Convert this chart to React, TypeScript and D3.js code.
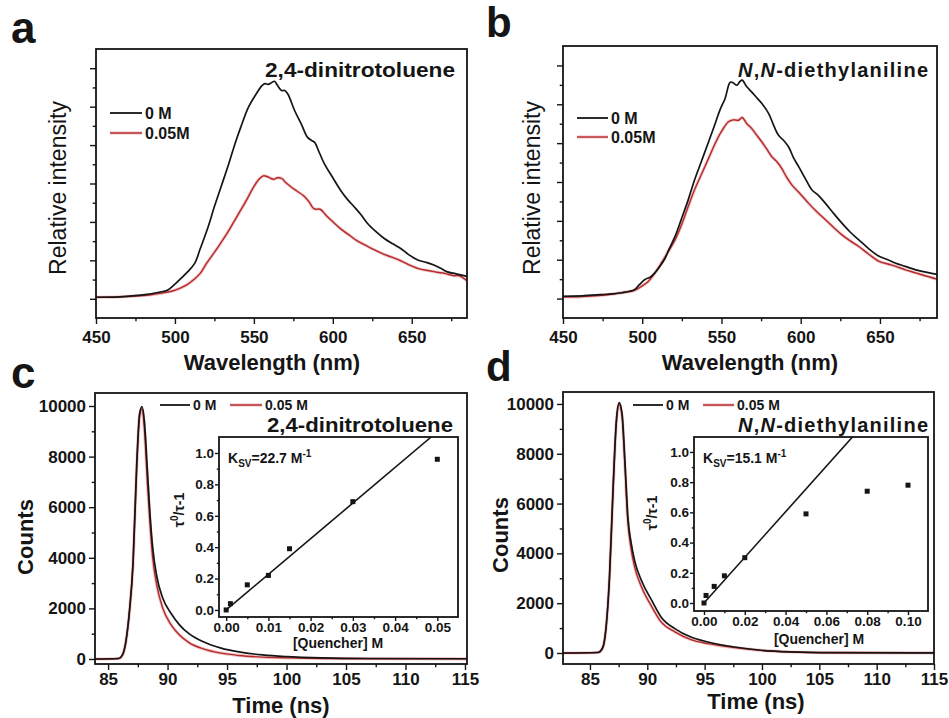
import { useEffect, useRef } from 'react'
import * as d3 from 'd3'

const FONT = '"Liberation Sans", Arial, Helvetica, sans-serif'
const INK = '#151515'
const RED = '#b3292b'
const GLOW = '#e9a7a7'

// steady-state spectra, [wavelength nm, relative intensity]
const specA0 = [[450, 0.04], [465, 0.05], [480, 0.1], [490, 0.17], [495.5, 0.23], [500, 0.38], [504, 0.54], [508, 0.7], [512.5, 0.92], [516, 1.3], [521, 1.87], [525, 2.4], [529.5, 2.95], [534, 3.5], [538, 4.03], [542, 4.5], [546.5, 4.98], [551, 5.3], [555, 5.54], [557, 5.6], [559, 5.58], [561, 5.62], [563, 5.66], [565, 5.55], [567.5, 5.42], [569.5, 5.42], [571.5, 5.33], [575.8, 4.9], [580, 4.55], [584, 4.2], [586.5, 4.12], [588.5, 4.07], [591.5, 3.8], [594.7, 3.51], [600, 3.15], [605, 2.82], [609, 2.6], [613.6, 2.39], [618, 2.18], [622, 1.96], [627, 1.76], [632.6, 1.57], [638, 1.43], [643, 1.31], [648, 1.15], [653.8, 1.01], [659, 0.95], [664, 0.88], [668, 0.8], [672.6, 0.7], [678, 0.65], [685, 0.58]]
const specA1 = [[450, 0.04], [465, 0.05], [484, 0.1], [492, 0.15], [499, 0.21], [503, 0.27], [507.5, 0.36], [512, 0.5], [516, 0.66], [520, 0.92], [524.5, 1.18], [529, 1.45], [533, 1.7], [537, 1.98], [541, 2.26], [545.5, 2.58], [549.7, 2.9], [553, 3.1], [556, 3.2], [559, 3.17], [562.4, 3.11], [565, 3.15], [567.7, 3.13], [570, 3.03], [573, 2.93], [577, 2.81], [581.5, 2.68], [585, 2.52], [587.5, 2.36], [589, 2.33], [592, 2.33], [596, 2.16], [600.4, 1.99], [605, 1.82], [611, 1.64], [615, 1.52], [619.5, 1.42], [626, 1.28], [632.2, 1.16], [637, 1.09], [643, 0.99], [649, 0.87], [655.5, 0.77], [661, 0.73], [666, 0.69], [671, 0.66], [676.7, 0.6], [680, 0.6], [685, 0.47]]
const specB0 = [[450, 0.06], [462, 0.07], [474, 0.1], [481, 0.12], [487, 0.15], [495, 0.23], [498, 0.35], [501.7, 0.49], [505, 0.55], [508, 0.66], [511, 0.82], [514, 1.0], [517, 1.28], [520.7, 1.6], [525, 2.08], [529, 2.54], [533, 3.05], [537.6, 3.56], [542, 4.05], [546, 4.5], [549, 4.85], [552.3, 5.15], [555.5, 5.57], [557.5, 5.55], [559.7, 5.49], [561.5, 5.58], [563, 5.62], [566, 5.45], [569, 5.32], [572, 5.18], [575.5, 5.02], [579.8, 4.76], [583, 4.45], [586, 4.2], [589, 4.08], [592.4, 3.9], [595.5, 3.62], [598.8, 3.39], [603, 3.08], [607, 2.8], [611, 2.66], [615.6, 2.45], [621, 2.18], [626, 1.94], [631, 1.72], [636.7, 1.51], [643, 1.28], [649.4, 1.09], [655, 1.0], [660, 0.91], [666, 0.83], [672.6, 0.74], [679, 0.68], [686, 0.62]]
const specB1 = [[450, 0.04], [462, 0.05], [478.5, 0.1], [487, 0.15], [495, 0.21], [499, 0.3], [503.8, 0.44], [508, 0.66], [512, 0.91], [516, 1.18], [520.7, 1.51], [525, 1.92], [529, 2.37], [533, 2.8], [537.6, 3.22], [542, 3.62], [546, 3.99], [550, 4.3], [554.4, 4.55], [557.5, 4.6], [560.8, 4.59], [563, 4.66], [566, 4.5], [569, 4.38], [572, 4.22], [575.5, 4.03], [578.5, 3.85], [581.8, 3.65], [585, 3.52], [588, 3.35], [591, 3.13], [594.5, 2.92], [600, 2.68], [605, 2.45], [610, 2.24], [615.6, 2.03], [621, 1.82], [626, 1.64], [631, 1.49], [636.7, 1.34], [643, 1.14], [649.4, 0.96], [655, 0.89], [660, 0.83], [666, 0.74], [672.6, 0.66], [679, 0.58], [686, 0.5]]

// fluorescence decays, [time ns, counts]
const decC0 = [[83.9, 0], [85.9, 20], [86.2, 150], [86.5, 700], [86.8, 1900], [87.1, 3800], [87.4, 7600], [87.65, 9700], [87.85, 9980], [88.05, 9400], [88.3, 7500], [88.5, 5900], [88.75, 4400], [89.1, 3250], [89.6, 2400], [90.3, 1800], [91, 1350], [91.8, 1000], [93, 680], [94.5, 430], [96, 280], [98, 160], [100, 95], [103, 45], [107, 20], [115.2, 10]]
const decC1 = [[83.9, 0], [85.9, 20], [86.2, 150], [86.5, 700], [86.8, 1900], [87.1, 3800], [87.4, 7500], [87.65, 9600], [87.85, 9880], [88.05, 9100], [88.3, 7000], [88.5, 5500], [88.75, 4000], [89.1, 2900], [89.6, 2000], [90.3, 1350], [91, 950], [91.8, 650], [93, 400], [94.5, 230], [96, 140], [98, 75], [100, 45], [103, 20], [107, 10], [115.2, 5]]
const decD0 = [[82.65, 0], [85.7, 20], [86.1, 200], [86.4, 1000], [86.7, 3000], [87.0, 6400], [87.3, 9300], [87.55, 10050], [87.8, 9600], [88.05, 7700], [88.3, 5500], [88.6, 4400], [88.9, 3700], [89.5, 2900], [90.4, 2100], [91.2, 1450], [92.4, 980], [93.8, 640], [95.3, 440], [97.6, 240], [99.9, 110], [102.5, 45], [106, 15], [115, 5]]
const decD1 = [[82.65, 0], [85.7, 20], [86.1, 200], [86.4, 1000], [86.7, 3000], [87.0, 6400], [87.3, 9250], [87.55, 9980], [87.8, 9500], [88.05, 7500], [88.3, 5300], [88.6, 4150], [88.9, 3450], [89.5, 2650], [90.4, 1850], [91.2, 1250], [92.4, 850], [93.8, 540], [95.3, 375], [97.6, 215], [99.9, 105], [102.5, 40], [106, 12], [115, 5]]

// Stern-Volmer insets
const quenchC = [0, 0.001, 0.005, 0.01, 0.015, 0.03, 0.05]
const ratioC = [0, 0.04, 0.16, 0.22, 0.39, 0.69, 0.96]
const quenchD = [0, 0.001, 0.005, 0.01, 0.02, 0.05, 0.08, 0.1]
const ratioD = [0, 0.05, 0.11, 0.18, 0.3, 0.59, 0.74, 0.78]
const ksvC = 22.7
const ksvD = 15.1

const wlTicks = [450, 500, 550, 600, 650]
const wlMinor = [475, 525, 575, 625, 675]
const relTicks = [0, 1, 2, 3, 4, 5, 6]
const relMinor = [0.5, 1.5, 2.5, 3.5, 4.5, 5.5]
const timeTicks = [85, 90, 95, 100, 105, 110, 115]
const timeMinor = [87.5, 92.5, 97.5, 102.5, 107.5, 112.5]
const countTicks = [0, 2000, 4000, 6000, 8000, 10000]
const countMinor = [1000, 3000, 5000, 7000, 9000]
const qTicksC = [0, 0.01, 0.02, 0.03, 0.04, 0.05]
const qMinorC = [0.005, 0.015, 0.025, 0.035, 0.045]
const qTicksD = [0, 0.02, 0.04, 0.06, 0.08, 0.1]
const qMinorD = [0.01, 0.03, 0.05, 0.07, 0.09]
const ratioTicks = [0, 0.2, 0.4, 0.6, 0.8, 1.0]
const ratioMinor = [0.1, 0.3, 0.5, 0.7, 0.9]

type Sel = d3.Selection<SVGGElement, unknown, null, undefined>

function axes(g: Sel, x: any, y: any, o: any) {
  const [x0, x1] = x.range()
  const [y0, y1] = y.range()
  const ax = g.append('g')
  const bot = (vals: number[], size: number, fmt: any) =>
    ax.append('g').attr('transform', `translate(0,${y0})`)
      .call(d3.axisBottom(x).tickValues(vals).tickSize(size).tickPadding(o.pad).tickFormat(fmt))
  const lef = (vals: number[], size: number, fmt: any) =>
    ax.append('g').attr('transform', `translate(${x0},0)`)
      .call(d3.axisLeft(y).tickValues(vals).tickSize(size).tickPadding(o.pad).tickFormat(fmt))
  bot(o.xTicks, o.tick, o.xFmt)
  bot(o.xMinor, o.tick * 0.55, () => '')
  lef(o.yTicks, o.tick, o.yFmt)
  lef(o.yMinor, o.tick * 0.55, () => '')
  ax.selectAll('.domain').remove()
  ax.selectAll('.tick line').attr('stroke', INK).attr('stroke-width', 1.4)
  ax.selectAll('.tick text').attr('fill', INK).attr('font-family', FONT)
    .attr('font-size', o.fs).attr('font-weight', 'bold')
  g.append('rect').attr('x', x0).attr('y', y1).attr('width', x1 - x0).attr('height', y0 - y1)
    .attr('fill', 'none').attr('stroke', INK).attr('stroke-width', 1.8)
}

function curve(g: Sel, data: number[][], x: any, y: any, red: boolean, smooth: any) {
  const line = d3.line<number[]>().x(d => x(d[0])).y(d => y(d[1])).curve(smooth)
  if (red) {
    g.append('path').attr('d', line(data)).attr('fill', 'none')
      .attr('stroke', GLOW).attr('stroke-width', 3.2).attr('stroke-opacity', 0.65)
  }
  g.append('path').attr('d', line(data)).attr('fill', 'none')
    .attr('stroke', red ? RED : INK).attr('stroke-width', red ? 1.4 : 1.7)
}

function label(g: Sel, txt: string, x: number, y: number, fs: number, o: any = {}) {
  const t = g.append('text').attr('x', x).attr('y', y).attr('font-family', FONT)
    .attr('font-size', fs).attr('font-weight', o.weight || 'bold').attr('fill', INK)
    .attr('text-anchor', o.anchor || 'start')
  if (o.rotate) t.attr('transform', `rotate(-90,${x},${y})`)
  if (o.len) t.attr('textLength', o.len).attr('lengthAdjust', 'spacingAndGlyphs')
  t.text(txt)
  return t
}

function legendRow(g: Sel, x0: number, x1: number, y: number, red: boolean, txt: string, fs: number) {
  if (red) g.append('line').attr('x1', x0).attr('x2', x1).attr('y1', y).attr('y2', y)
    .attr('stroke', GLOW).attr('stroke-width', 3.2).attr('stroke-opacity', 0.65)
  g.append('line').attr('x1', x0).attr('x2', x1).attr('y1', y).attr('y2', y)
    .attr('stroke', red ? RED : INK).attr('stroke-width', red ? 1.4 : 1.8)
  label(g, txt, x1 + 3, y + fs * 0.36, fs)
}

function italicTitle(g: Sel, x: number, y: number, len: number) {
  const t = g.append('text').attr('x', x).attr('y', y).attr('font-family', FONT)
    .attr('font-size', 20).attr('font-weight', 'bold').attr('fill', INK)
    .attr('textLength', len).attr('lengthAdjust', 'spacing')
  t.append('tspan').attr('font-style', 'italic').text('N')
  t.append('tspan').text(',')
  t.append('tspan').attr('font-style', 'italic').text('N')
  t.append('tspan').text('-diethylaniline')
}

function spectrum(svg: Sel, box: number[], xDom: number[], s0: number[][], s1: number[][], id: string) {
  const [l, t, r, b] = box
  const x = d3.scaleLinear().domain(xDom).range([l, r])
  const y = d3.scaleLinear().domain([-0.5, 6.5]).range([b, t])
  const g = svg.append('g')
  g.append('clipPath').attr('id', id).append('rect').attr('x', l).attr('y', t).attr('width', r - l).attr('height', b - t)
  const c = g.append('g').attr('clip-path', `url(#${id})`)
  const sm = d3.curveCatmullRom.alpha(0.5)
  curve(c, s1, x, y, true, sm)
  curve(c, s0, x, y, false, sm)
  axes(g, x, y, { xTicks: wlTicks, xMinor: wlMinor, yTicks: relTicks, yMinor: relMinor, xFmt: d3.format('d'), yFmt: () => '', tick: 6, pad: 7, fs: 17 })
  return g
}

function decay(svg: Sel, box: number[], xDom: number[], yDom: number[], s0: number[][], s1: number[][], id: string) {
  const [l, t, r, b] = box
  const x = d3.scaleLinear().domain(xDom).range([l, r])
  const y = d3.scaleLinear().domain(yDom).range([b, t])
  const g = svg.append('g')
  g.append('clipPath').attr('id', id).append('rect').attr('x', l).attr('y', t).attr('width', r - l).attr('height', b - t)
  const c = g.append('g').attr('clip-path', `url(#${id})`)
  const sm = d3.curveMonotoneX
  curve(c, s1, x, y, true, sm)
  curve(c, s0, x, y, false, sm)
  axes(g, x, y, { xTicks: timeTicks, xMinor: timeMinor, yTicks: countTicks, yMinor: countMinor, xFmt: d3.format('d'), yFmt: d3.format('d'), tick: 6, pad: 3, fs: 17 })
  return g
}

function inset(svg: Sel, box: number[], xDom: number[], yDom: number[], qs: number[], rs: number[], ksv: number, xt: number[], xm: number[], id: string) {
  const [l, t, r, b] = box
  const x = d3.scaleLinear().domain(xDom).range([l, r])
  const y = d3.scaleLinear().domain(yDom).range([b, t])
  const g = svg.append('g')
  g.append('rect').attr('x', l).attr('y', t).attr('width', r - l).attr('height', b - t).attr('fill', '#fff')
  g.append('clipPath').attr('id', id).append('rect').attr('x', l).attr('y', t).attr('width', r - l).attr('height', b - t)
  const c = g.append('g').attr('clip-path', `url(#${id})`)
  const xEnd = yDom[1] / ksv
  c.append('path').attr('d', d3.line()([[x(0), y(0)], [x(xEnd), y(ksv * xEnd)]]))
    .attr('stroke', INK).attr('stroke-width', 1.6).attr('fill', 'none')
  c.selectAll('rect.pt').data(qs).join('rect').attr('class', 'pt')
    .attr('x', (d: number) => x(d) - 2.5).attr('y', (_d: number, i: number) => y(rs[i]) - 2.5)
    .attr('width', 5).attr('height', 5).attr('fill', INK)
  axes(g, x, y, { xTicks: xt, xMinor: xm, yTicks: ratioTicks, yMinor: ratioMinor, xFmt: d3.format('.2f'), yFmt: d3.format('.1f'), tick: 4, pad: 1, fs: 13.5 })
  const k = g.append('text').attr('x', l + 9).attr('y', t + 26).attr('font-family', FONT)
    .attr('font-size', 14).attr('font-weight', 'bold').attr('fill', INK)
  k.append('tspan').text('K')
  k.append('tspan').attr('font-size', 10).attr('dy', 4).text('SV')
  k.append('tspan').attr('dy', -4).text(`=${ksv} M`)
  k.append('tspan').attr('font-size', 10).attr('dy', -6).text('-1')
  return g
}

function tauLabel(svg: Sel, x: number, y: number) {
  const t = svg.append('text').attr('x', x).attr('y', y).attr('font-family', FONT)
    .attr('font-size', 14).attr('font-weight', 'bold').attr('fill', INK)
    .attr('text-anchor', 'middle').attr('transform', `rotate(-90,${x},${y})`)
  t.append('tspan').text('τ')
  t.append('tspan').attr('font-size', 10).attr('dy', -6).text('0')
  t.append('tspan').attr('dy', 6).text('/τ-1')
}

export default function App() {
  const ref = useRef<SVGSVGElement>(null)

  useEffect(() => {
    if (!ref.current) return
    const svg = d3.select(ref.current) as any
    svg.selectAll('*').remove()
    const root: Sel = svg.append('g')

    // a / b spectra
    spectrum(root, [96, 49, 467, 318], [450, 685], specA0, specA1, 'clipA')
    spectrum(root, [563, 46, 937, 318], [450, 686], specB0, specB1, 'clipB')
    label(root, '2,4-dinitrotoluene', 265, 77, 20, { len: 190 })
    italicTitle(root, 738, 77, 190)
    legendRow(root, 110, 142, 113, false, '0 M', 16)
    legendRow(root, 110, 142, 133, true, '0.05M', 16)
    legendRow(root, 577, 608, 118, false, '0 M', 16)
    legendRow(root, 577, 608, 137, true, '0.05M', 16)
    label(root, 'Relative intensity', 66, 188, 23, { anchor: 'middle', rotate: true, weight: 'normal' })
    label(root, 'Relative intensity', 540, 188, 23, { anchor: 'middle', rotate: true, weight: 'normal' })
    label(root, 'Wavelength (nm)', 272, 370, 22, { anchor: 'middle' })
    label(root, 'Wavelength (nm)', 750, 370, 22, { anchor: 'middle' })

    // c / d decays
    decay(root, [95, 393, 467, 664], [83.9, 115.17], [-198, 10514], decC0, decC1, 'clipC')
    decay(root, [563, 392, 934, 664], [82.65, 115], [-442, 10480], decD0, decD1, 'clipD')
    legendRow(root, 160, 190, 405, false, '0 M', 14)
    legendRow(root, 230, 262, 405, true, '0.05 M', 14)
    legendRow(root, 633, 663, 405, false, '0 M', 14)
    legendRow(root, 703, 734, 405, true, '0.05 M', 14)
    label(root, '2,4-dinitrotoluene', 267, 432, 20, { len: 186 })
    italicTitle(root, 738, 432, 190)
    label(root, 'Counts', 33, 537, 22, { anchor: 'middle', rotate: true })
    label(root, 'Counts', 508, 535, 22, { anchor: 'middle', rotate: true })
    label(root, 'Time (ns)', 281, 713, 22, { anchor: 'middle' })
    label(root, 'Time (ns)', 756, 709, 22, { anchor: 'middle' })

    inset(root, [219, 437, 458, 617], [-0.0017, 0.0549], [-0.045, 1.102], quenchC, ratioC, ksvC, qTicksC, qMinorC, 'clipIC')
    inset(root, [694, 437, 928, 611], [-0.0049, 0.1098], [-0.053, 1.099], quenchD, ratioD, ksvD, qTicksD, qMinorD, 'clipID')
    label(root, '[Quencher] M', 338, 648, 14, { anchor: 'middle' })
    label(root, '[Quencher] M', 819, 644, 14, { anchor: 'middle' })
    tauLabel(root, 184, 510)
    tauLabel(root, 657, 513)

    // panel letters
    label(root, 'a', 11, 43, 44)
    label(root, 'b', 486, 37, 42)
    label(root, 'c', 11, 388, 44)
    label(root, 'd', 486, 381, 42)
  }, [])

  return (
    <svg ref={ref} width={949} height={718}
      style={{ position: 'absolute', left: 0, top: 0, background: '#fff' }} />
  )
}
